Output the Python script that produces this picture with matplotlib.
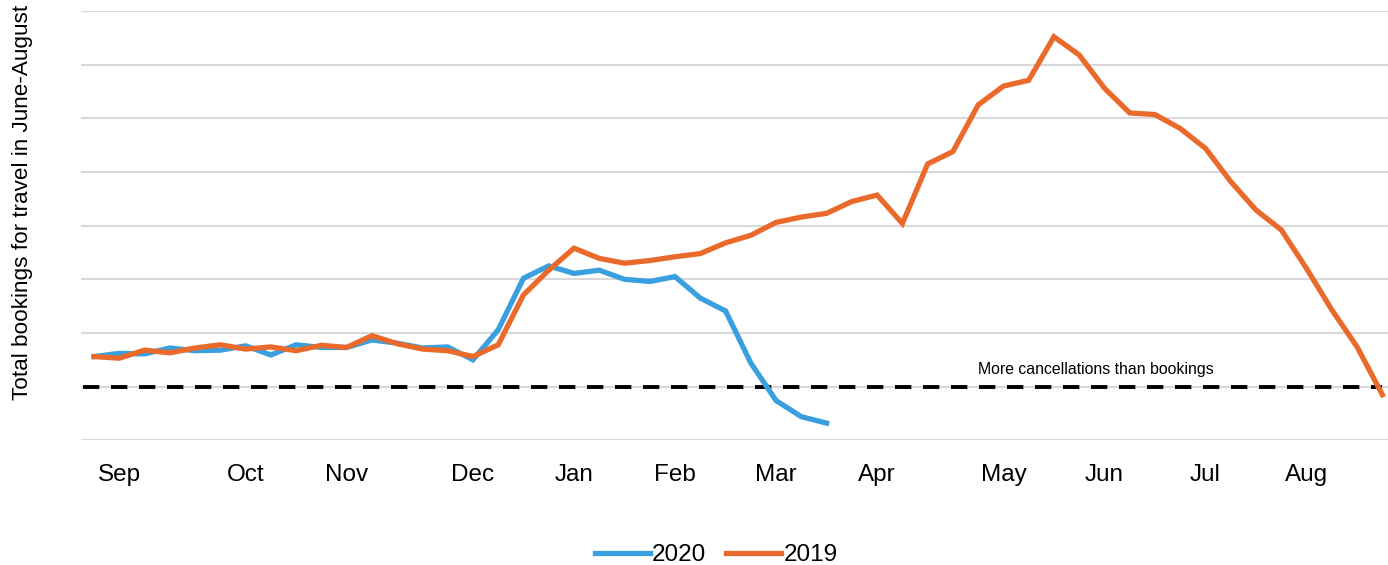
import numpy as np
import matplotlib
matplotlib.use("Agg")
import matplotlib.pyplot as plt

# ==========================================================
#  데이터 (weekly, index 0 = first week of Sep)
# ==========================================================
bookings_2020 = [
    0.56, 0.62, 0.61, 0.72, 0.67, 0.68, 0.76, 0.59, 0.78, 0.73,
    0.73, 0.87, 0.81, 0.72, 0.74, 0.50, 1.06, 2.02, 2.25, 2.11,
    2.17, 2.00, 1.96, 2.05, 1.65, 1.41, 0.44, -0.26, -0.56, -0.68,
]
bookings_2019 = [
    0.56, 0.53, 0.68, 0.63, 0.72, 0.78, 0.70, 0.74, 0.67, 0.77,
    0.73, 0.95, 0.80, 0.70, 0.67, 0.56, 0.78, 1.71, 2.17, 2.58,
    2.39, 2.30, 2.35, 2.42, 2.48, 2.68, 2.82, 3.06, 3.16, 3.23,
    3.45, 3.57, 3.04, 4.15, 4.38, 5.25, 5.60, 5.71, 6.52, 6.18,
    5.56, 5.10, 5.07, 4.81, 4.44, 3.82, 3.29, 2.92, 2.20, 1.43,
    0.74, -0.15,
]
month_labels = ["Sep", "Oct", "Nov", "Dec", "Jan", "Feb", "Mar",
                "Apr", "May", "Jun", "Jul", "Aug"]
month_weeks = [1, 6, 10, 15, 19, 23, 27, 31, 36, 40, 44, 48]

C_2020 = "#3A9FDE"
C_2019 = "#EA6A2C"

plt.rcParams["font.family"] = ["Liberation Sans", "DejaVu Sans"]

fig = plt.figure(figsize=(13.88, 5.65), dpi=100)
ax = fig.add_axes([81.4 / 1388, 1 - 440.3 / 565, (1395 - 81.4) / 1388, (440.3 - 11) / 565])

ax.plot(np.arange(len(bookings_2020)), bookings_2020, color=C_2020, lw=3.8,
        solid_joinstyle="miter", label="2020", zorder=3)
ax.plot(np.arange(len(bookings_2019)), bookings_2019, color=C_2019, lw=3.8,
        solid_joinstyle="miter", label="2019", zorder=4)

# zero line
ax.axhline(0, xmin=0.001, xmax=0.99, color="black", lw=2.8, ls=(0, (4.2, 3.0)), zorder=2)
ax.text(39.65, 0.18, "More cancellations than bookings", fontsize=11.4,
        ha="center", va="bottom", color="black")

ax.set_xlim(-0.5, 51.5)
ax.set_ylim(-1, 7)
ax.set_yticks(np.arange(-1, 8))
ax.set_yticklabels([])
ax.yaxis.grid(True, color="#d9d9d9", lw=1.5)
ax.set_axisbelow(True)
ax.tick_params(axis="y", length=0)

ax.set_xticks(month_weeks)
ax.set_xticklabels(month_labels, fontsize=17.5)
ax.tick_params(axis="x", length=0, pad=17)

for s in ax.spines.values():
    s.set_visible(False)

fig.text(23 / 1388, 1 - 202 / 565, "Total bookings for travel in June-August",
         rotation=90, fontsize=16.2, ha="center", va="center")

fig.legend(loc="center", bbox_to_anchor=(716 / 1388, 1 - 555 / 565), ncol=2,
           frameon=False, fontsize=17.5, handlelength=2.26, handletextpad=0.08,
           columnspacing=0.85)

fig.savefig("out.png", dpi=100)
